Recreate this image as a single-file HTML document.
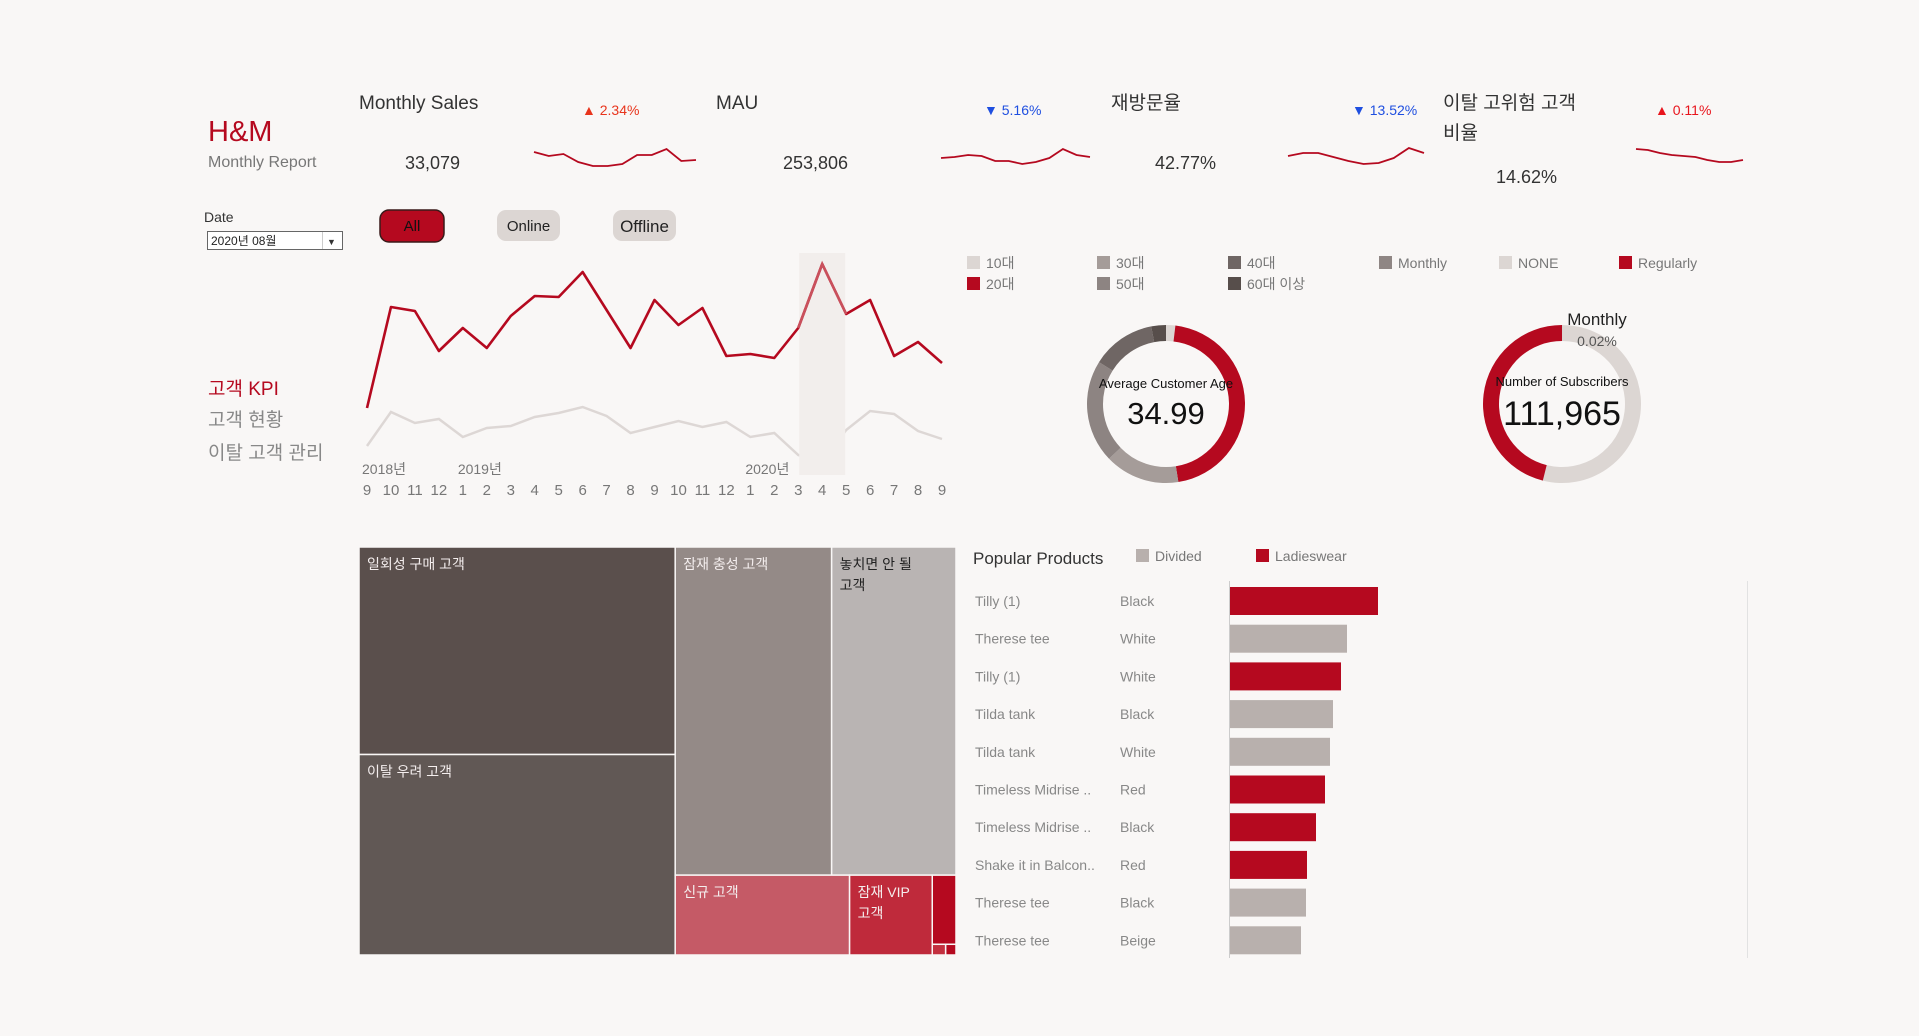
<!DOCTYPE html>
<html><head><meta charset="utf-8">
<style>
html,body{margin:0;padding:0;background:#f9f7f6;}
svg{display:block;font-family:"Liberation Sans Narrow","Liberation Sans","Noto Sans CJK KR",sans-serif;}
</style></head>
<body>
<svg id="s" width="1919" height="1036" viewBox="0 0 1919 1036">
<rect width="1919" height="1036" fill="#f9f7f6"/>
<g>
<text x="208" y="141" font-size="29" fill="#b5091f">H&amp;M</text>
<text x="208" y="167" font-size="16" fill="#777">Monthly Report</text>
</g>
<g>
<text x="359" y="109" font-size="19" fill="#333">Monthly Sales</text>
<text x="405" y="169" font-size="18" fill="#333">33,079</text>
<text x="582" y="115" font-size="14" fill="#e8341c">▲ 2.34%</text>
<text x="716" y="109" font-size="19" fill="#333">MAU</text>
<text x="783" y="169" font-size="18" fill="#333">253,806</text>
<text x="984" y="115" font-size="14" fill="#1f4fe0">▼ 5.16%</text>
<text x="1111" y="109" font-size="19" fill="#333">재방문율</text>
<text x="1155" y="169" font-size="18" fill="#333">42.77%</text>
<text x="1352" y="115" font-size="14" fill="#1f4fe0">▼ 13.52%</text>
<text x="1443" y="109" font-size="19" fill="#333">이탈 고위험 고객</text>
<text x="1443" y="139" font-size="19" fill="#333">비율</text>
<text x="1496" y="183" font-size="18" fill="#333">14.62%</text>
<text x="1655" y="115" font-size="14" fill="#e8141c">▲ 0.11%</text>
</g>
<g>
<text x="204" y="222" font-size="14" fill="#333">Date</text>
<g>
<rect x="207.5" y="231.5" width="135" height="18" fill="#fff" stroke="#666"/>
<line x1="322.5" y1="232" x2="322.5" y2="249" stroke="#ccc"/>
<text x="211" y="245" font-size="12" fill="#222">2020년 08월</text>
<text x="327" y="245" font-size="9" fill="#333">▼</text>
</g>
<g>
<rect x="380" y="210" width="64" height="32" rx="9" fill="#b5091f" stroke="#3a1a1a" stroke-width="1.5"/>
<text x="412" y="231" font-size="15" fill="#111" text-anchor="middle">All</text>
</g>
<g>
<rect x="497" y="210" width="63" height="31" rx="9" fill="#dcd6d3"/>
<text x="528.5" y="231" font-size="15" fill="#222" text-anchor="middle">Online</text>
</g>
<g>
<rect x="613" y="210" width="63" height="31" rx="9" fill="#dcd6d3"/>
<text x="644.5" y="232" font-size="17" fill="#222" text-anchor="middle">Offline</text>
</g>
</g>
<g>
<text x="208" y="395" font-size="19" fill="#b5091f">고객 KPI</text>
<text x="208" y="426" font-size="19" fill="#888">고객 현황</text>
<text x="208" y="459" font-size="19" fill="#888">이탈 고객 관리</text>
</g>
<g id="spark"></g>
<g id="line"></g>
<g id="legends"></g>
<g id="donuts"></g>
<g id="tree"></g>
<g id="bars"></g>
</svg>
<script>
// ---- sparkline data ----
const sparkSales = [18,14,16,8,4,4,6,15,15,21,9,10];
const sparkMau = [12,13,15,14,9,9,6,8,12,21,15,13];
const sparkRevisit = [14,17,17,13,9,6,7,12,22,17];
const sparkChurn = [21,20,17,15,14,13,10,8,8,10];
// ---- line chart data ----
const months = ["9","10","11","12","1","2","3","4","5","6","7","8","9","10","11","12","1","2","3","4","5","6","7","8","9"];
const yearLabels = ["2018년","2019년","2020년"];
const yearIndex = [0,4,16];
const salesAll = [26000,36100,35700,31700,34000,32000,35200,37200,37100,39600,35800,32000,36800,34300,36000,31200,31400,31000,34000,40400,35400,36800,31200,32600,30500];
const salesPrev = [22200,25600,24500,24900,23100,24000,24200,25100,25500,26100,25200,23500,24100,24700,24100,24600,23100,23500,21300,20600,23800,25700,25400,23700,22900];
const highlightIndex = 19;
// ---- donut data ----
const ageGroups = ["10대","20대","30대","50대","40대","60대 이상"];
const ageShares = [1.9,45.6,15.3,21.1,13.1,3.0];
const subTypes = ["Monthly","NONE","Regularly"];
const subShares = [0.02,53.88,46.1];
// ---- treemap data ----
const segNames = ["일회성 구매 고객","이탈 우려 고객","잠재 충성 고객","놓치면 안 될 고객","신규 고객","잠재 VIP 고객","VIP 고객","이탈 고객","휴면 고객"];
const segValues = [65205,63000,51012,40548,13840,6560,1632,143,110];
// ---- bar data ----
const productNames = ["Tilly (1)","Therese tee","Tilly (1)","Tilda tank","Tilda tank","Timeless Midrise ..","Timeless Midrise ..","Shake it in Balcon..","Therese tee","Therese tee"];
const productColors = ["Black","White","White","Black","White","Red","Black","Red","Black","Beige"];
const productDept = ["L","D","L","D","D","L","L","L","D","D"];
const productSales = [1480,1170,1110,1030,1000,950,860,770,760,710];

const NS="http://www.w3.org/2000/svg";
function mk(parent,tag,attrs,txt){const e=document.createElementNS(NS,tag);for(const k in attrs)e.setAttribute(k,attrs[k]);if(txt!==undefined)e.textContent=txt;parent.appendChild(e);return e;}
const RED="#b5091f";

// sparklines
const sparkG=document.getElementById('spark');
const sparkY=v=>170-v;
[[sparkSales,534,696],[sparkMau,941,1090],[sparkRevisit,1288,1424],[sparkChurn,1636,1743]].forEach((d,i)=>{
  const [vals,x0,x1]=d;
  const sx=j=>x0+j*(x1-x0)/(vals.length-1);
  const p=mk(sparkG,'polyline',{points:vals.map((v,j)=>sx(j)+','+sparkY(v)).join(' '),fill:'none',stroke:RED,'stroke-width':1.8});
  
  
});

// line chart
const lineG=document.getElementById('line');
const lx=i=>367+i*(942-367)/(months.length-1);
const ly=v=>408-(v-26000)/100;
const gl=mk(lineG,'polyline',{points:salesPrev.map((v,i)=>lx(i)+','+ly(v)).join(' '),fill:'none',stroke:'#ddd7d5','stroke-width':2.5});


const bandCover=mk(lineG,'rect',{x:lx(highlightIndex)-23,y:253,width:46,height:222,fill:'#f2eeec'});


const rl=mk(lineG,'polyline',{points:salesAll.map((v,i)=>lx(i)+','+ly(v)).join(' '),fill:'none',stroke:RED,'stroke-width':2.6,'stroke-linejoin':'round'});


const hl=mk(lineG,'polyline',{points:[highlightIndex-1,highlightIndex,highlightIndex+1].map(i=>lx(i)+','+ly(salesAll[i])).join(' '),fill:'none',stroke:'#c9505c','stroke-width':2.6});


yearLabels.forEach((t,k)=>{const e=mk(lineG,'text',{x:lx(yearIndex[k])-5,y:474,'font-size':14,fill:'#777'},t);
  
  });
months.forEach((t,i)=>{const e=mk(lineG,'text',{x:lx(i),y:495,'font-size':15,fill:'#777','text-anchor':'middle'},t);
  
  });

// legends
const legG=document.getElementById('legends');
const ageColors=["#dcd6d3",RED,"#a59c99","#8d8482","#6f6664","#574e4b"];
const ageLegPos=[[967,263],[967,284],[1097,263],[1097,284],[1228,263],[1228,284]];
ageGroups.forEach((g,i)=>{const [x,y]=ageLegPos[i];
  const r=mk(legG,'rect',{x:x,y:y-7,width:13,height:13,fill:ageColors[i]});
  
  
  const t=mk(legG,'text',{x:x+19,y:y+5,'font-size':14,fill:'#777'},g);
  
  });
const subColors=["#8f8684","#dcd6d3",RED];
const subLegX=[1379,1499,1619];
subTypes.forEach((g,i)=>{
  const r=mk(legG,'rect',{x:subLegX[i],y:256,width:13,height:13,fill:subColors[i]});
  
  
  const t=mk(legG,'text',{x:subLegX[i]+19,y:268,'font-size':14,fill:'#777'},g);
  
  });

// donuts
const dG=document.getElementById('donuts');
function arc(cx,cy,r0,r1,a0,a1){
  const p=(r,a)=>[cx+r*Math.sin(a*Math.PI/180),cy-r*Math.cos(a*Math.PI/180)];
  const lg=(a1-a0)>180?1:0;
  const [x1,y1]=p(r1,a0),[x2,y2]=p(r1,a1),[x3,y3]=p(r0,a1),[x4,y4]=p(r0,a0);
  return `M${x1},${y1}A${r1},${r1} 0 ${lg} 1 ${x2},${y2}L${x3},${y3}A${r0},${r0} 0 ${lg} 0 ${x4},${y4}Z`;
}
function donut(cx,cy,shares,colors,name){
  const tot=shares.reduce((a,b)=>a+b,0);let a=0;
  shares.forEach((s,i)=>{const a1=a+s/tot*360;
    const p=mk(dG,'path',{d:arc(cx,cy,63,79,a,Math.max(a1,a+0.2)),fill:colors[i]});
    
    
    a=a1;});
}
donut(1166,404,ageShares,ageColors,'age');
donut(1562,404,subShares,subColors,'subscription');
[[1166,388,13,'Average Customer Age','#111','age-center-label'],[1166,424,31,'34.99','#111','average-age-value'],
 [1597,325,17,'Monthly','#222','monthly-label'],[1597,346,14,'0.02%','#555','monthly-share'],
 [1562,386,13,'Number of Subscribers','#111','subscribers-center-label'],[1562,425,34,'111,965','#111','subscriber-count']].forEach(d=>{
  const t=mk(dG,'text',{x:d[0],y:d[1],'font-size':d[2],fill:d[4],'text-anchor':'middle'},d[3]);
  
  });

// treemap (fixed nesting, sizes from values)
const tG=document.getElementById('tree');
const TX=359,TY=547,TW=597,TH=408;
const tot=segValues.reduce((a,b)=>a+b,0);
const rects=[];
const c1w=TW*(segValues[0]+segValues[1])/tot;
const h0=TH*segValues[0]/(segValues[0]+segValues[1]);
rects[0]=[TX,TY,c1w,h0];rects[1]=[TX,TY+h0,c1w,TH-h0];
const rx=TX+c1w,rw=TW-c1w;
const restTot=tot-segValues[0]-segValues[1];
const topH=TH*(segValues[2]+segValues[3])/restTot;
const w2=rw*segValues[2]/(segValues[2]+segValues[3]);
rects[2]=[rx,TY,w2,topH];rects[3]=[rx+w2,TY,rw-w2,topH];
const by=TY+topH,bh=TH-topH;
const botTot=segValues[4]+segValues[5]+segValues[6]+segValues[7]+segValues[8];
const w4=rw*segValues[4]/botTot,w5=rw*segValues[5]/botTot,w6=rw-w4-w5;
rects[4]=[rx,by,w4,bh];rects[5]=[rx+w4,by,w5,bh];
const smTot=segValues[6]+segValues[7]+segValues[8];
const h6=bh*segValues[6]/smTot;
rects[6]=[rx+w4+w5,by,w6,h6];
const w7=w6*segValues[7]/(segValues[7]+segValues[8]);
rects[7]=[rx+w4+w5,by+h6,w7,bh-h6];rects[8]=[rx+w4+w5+w7,by+h6,w6-w7,bh-h6];
const segColors=["#5a4f4c","#615855","#948a87","#b9b4b3","#c55a66","#bf2a3b",RED,"#c3303f",RED];
const segText=[["일회성 구매 고객"],["이탈 우려 고객"],["잠재 충성 고객"],["놓치면 안 될","고객"],["신규 고객"],["잠재 VIP","고객"],[],[],[]];
rects.forEach((r,i)=>{
  const e=mk(tG,'rect',{x:r[0],y:r[1],width:r[2],height:r[3],fill:segColors[i],stroke:'#f9f7f6','stroke-width':1.5});
  
  
  segText[i].forEach((l,k)=>{const t=mk(tG,'text',{x:r[0]+8,y:r[1]+22+k*21,'font-size':14,fill:i==3?'#222':'#f4eeee'},l);
    
    });
});

// bar chart
const bG=document.getElementById('bars');
const bx=v=>1230+v*0.1;
const by0=i=>601+i*37.7;
[[973,564,17,'Popular Products','#333','bar-chart-title']].forEach(d=>{const t=mk(bG,'text',{x:d[0],y:d[1],'font-size':d[2],fill:d[4]},d[3]);
  
  });
[[1136,'#b8b0ad','Divided'],[1256,RED,'Ladieswear']].forEach(d=>{
  const r=mk(bG,'rect',{x:d[0],y:549,width:13,height:13,fill:d[1]});
  
  
  const t=mk(bG,'text',{x:d[0]+19,y:561,'font-size':14,fill:'#777'},d[2]);
  
  });
const ax=mk(bG,'line',{x1:1229.5,y1:581,x2:1229.5,y2:958,stroke:'#ccc'});


const ax2=mk(bG,'line',{x1:1747.5,y1:581,x2:1747.5,y2:958,stroke:'#e2e2e2'});


productSales.forEach((v,i)=>{
  const y=by0(i);
  const b=mk(bG,'rect',{x:bx(0),y:y-14,width:bx(v)-bx(0),height:28,fill:productDept[i]=='L'?RED:'#b8b0ad'});
  
  
  const n=mk(bG,'text',{x:975,y:y+5,'font-size':14,fill:'#888'},productNames[i]);
  
  
  const c=mk(bG,'text',{x:1120,y:y+5,'font-size':14,fill:'#888'},productColors[i]);
  
  
});
</script>
</body></html>
